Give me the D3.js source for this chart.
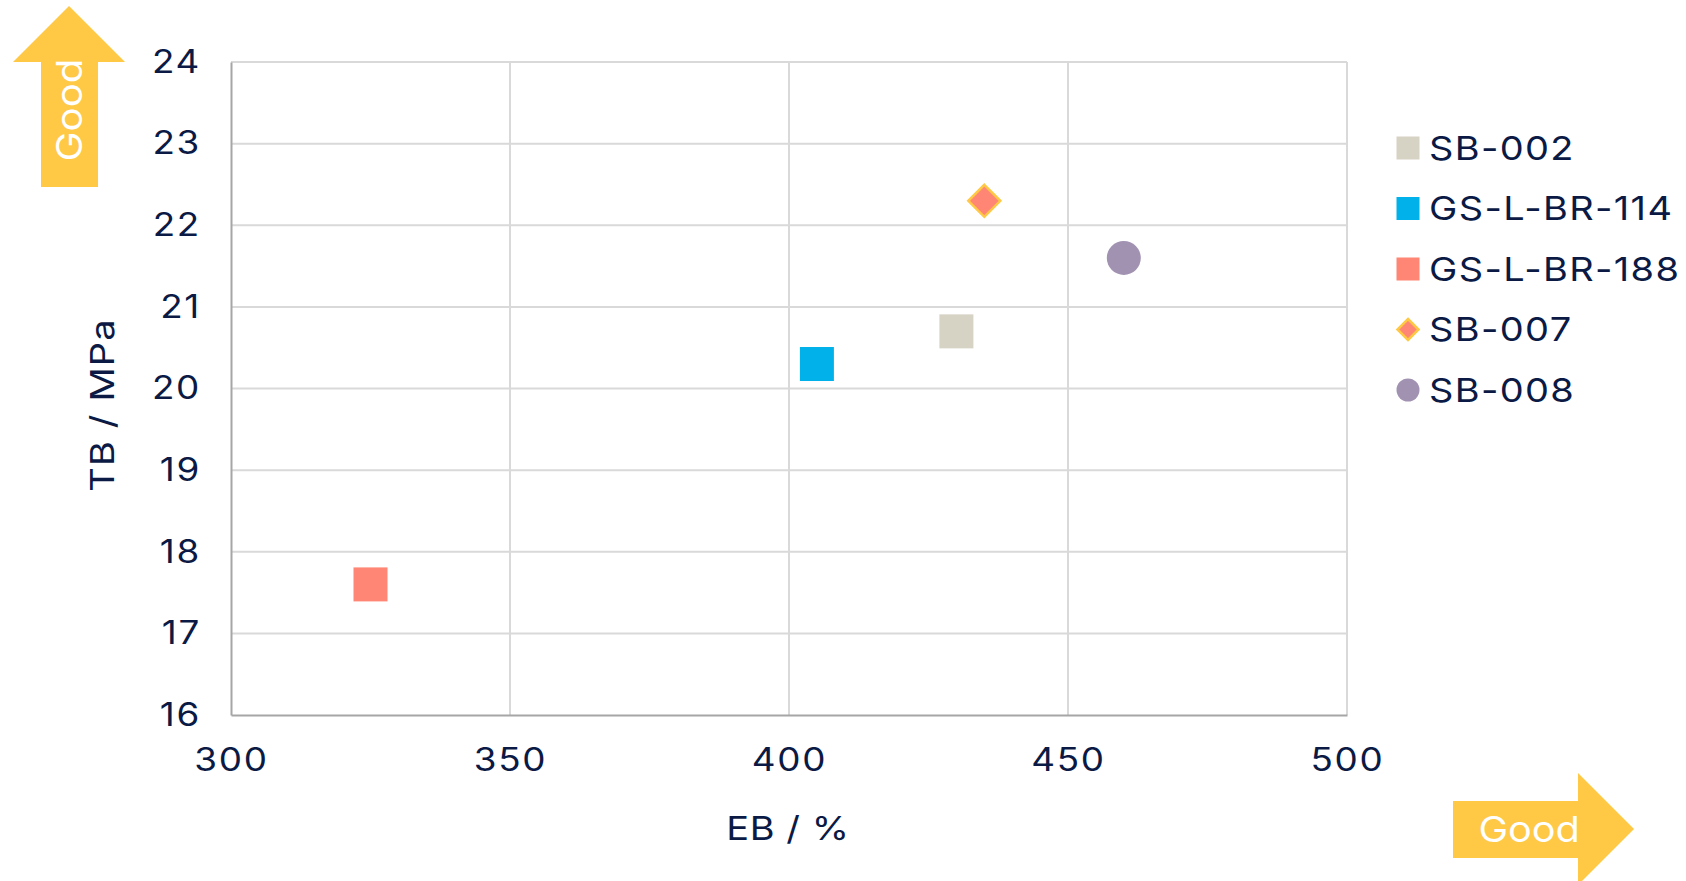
<!DOCTYPE html>
<html>
<head>
<meta charset="utf-8">
<script src="https://cdn.jsdelivr.net/npm/d3@7"></script>
<style>
  html, body { margin: 0; padding: 0; background: #fff; }
  svg { display: block; }
  text { font-family: "Inter", "Noto Sans", sans-serif; }
</style>
</head>
<body>
<svg id="chart" width="1686" height="881"></svg>
<script>
// Series: elongation at break (EB, %) vs tensile strength (TB, MPa)
const seriesNames = ["SB-002", "GS-L-BR-114", "GS-L-BR-188", "SB-007", "SB-008"];
const ebValues = [430, 405, 325, 435, 460];
const tbValues = [20.7, 20.3, 17.6, 22.3, 21.6];
const markerShapes = ["square", "square", "square", "diamond", "circle"];
const markerColors = ["#D6D2C4", "#00B2E9", "#FF8674", "#FF8674", "#A192B2"];
const xTicks = [300, 350, 400, 450, 500];
const yTicks = [16, 17, 18, 19, 20, 21, 22, 23, 24];

const svg = d3.select("#chart");
const ink = "#0B1A45";
const gold = "#FFC845";
const stretch = 1.15;   // wide lettering

const plot = { left: 231, right: 1347, top: 62, bottom: 715 };
const x = d3.scaleLinear().domain([300, 500]).range([plot.left, plot.right]);
const y = d3.scaleLinear().domain([16, 24]).range([plot.bottom, plot.top]);

// Turn a text's x attribute into a translate so it can be widened in place
function widen(sel, sx) {
  sel.each(function () {
    const t = d3.select(this);
    const tx = +t.attr("x") || 0;
    const prev = t.attr("transform") || "";
    t.attr("x", 0).attr("transform", `${prev} translate(${tx},0) scale(${sx},1)`);
  });
}

// Gridlines
svg.append("g").selectAll("line").data(yTicks.filter(t => t > 16)).join("line")
  .attr("x1", plot.left).attr("x2", plot.right)
  .attr("y1", d => y(d)).attr("y2", d => y(d))
  .attr("stroke", "#D9D9D9").attr("stroke-width", 2);
svg.append("g").selectAll("line").data(xTicks.filter(t => t > 300)).join("line")
  .attr("y1", plot.top).attr("y2", plot.bottom)
  .attr("x1", d => x(d)).attr("x2", d => x(d))
  .attr("stroke", "#D9D9D9").attr("stroke-width", 2);

// Axes
const xAxis = svg.append("g").attr("transform", `translate(0,${plot.bottom})`)
  .call(d3.axisBottom(x).tickValues(xTicks).tickSize(0).tickPadding(33));
const yAxis = svg.append("g").attr("transform", `translate(${plot.left},0)`)
  .call(d3.axisLeft(y).tickValues(yTicks).tickSize(0).tickPadding(30));
[xAxis, yAxis].forEach(g => {
  g.select(".domain").attr("stroke", "#A6A6A6").attr("stroke-width", 2);
  g.selectAll("text").attr("fill", ink).style("font-size", "32px")
    .attr("letter-spacing", 1.5)
    .style("font-family", "Inter, 'Noto Sans', sans-serif")
    .call(widen, stretch);
});

// Axis titles
svg.append("text").attr("transform", `translate(788,840) scale(${stretch},1)`)
  .attr("text-anchor", "middle").attr("letter-spacing", 0.5)
  .attr("fill", ink).style("font-size", "33px").text("EB / %");
svg.append("text").attr("transform", `translate(114,405) rotate(-90) scale(${stretch},1)`)
  .attr("text-anchor", "middle").attr("letter-spacing", 1).attr("fill", ink)
  .style("font-size", "33px").text("TB / MPa");

// Marker drawing
const markerSize = 34;
function drawMarker(g, shape, color, size) {
  if (shape === "square") {
    g.append("rect").attr("x", -size / 2).attr("y", -size / 2)
      .attr("width", size).attr("height", size).attr("fill", color);
  } else if (shape === "circle") {
    g.append("circle").attr("r", size / 2).attr("fill", color);
  } else {
    const h = size / 2 - 1;
    g.append("path").attr("d", `M0,${-h}L${h},0L0,${h}L${-h},0Z`)
      .attr("fill", color).attr("stroke", gold).attr("stroke-width", 2.5);
  }
}

const data = seriesNames.map((name, i) => ({
  name, eb: ebValues[i], tb: tbValues[i], shape: markerShapes[i], color: markerColors[i]
}));

svg.append("g").selectAll("g").data(data).join("g")
  .attr("transform", d => `translate(${x(d.eb)},${y(d.tb)})`)
  .each(function (d) { drawMarker(d3.select(this), d.shape, d.color, markerSize); });

// Legend
const legend = svg.append("g").attr("transform", "translate(1408,148)");
const rows = legend.selectAll("g").data(data).join("g")
  .attr("transform", (d, i) => `translate(0,${i * 60.5})`);
rows.each(function (d) { drawMarker(d3.select(this), d.shape, d.color, 23); });
rows.append("text").attr("x", 21).attr("dy", "0.35em").attr("fill", ink)
  .attr("letter-spacing", 1.2).style("font-size", "33px").text(d => d.name)
  .call(widen, stretch);

// "Good" direction arrows
const arrowUp = "M69,6 L125,62 L98,62 L98,187 L41,187 L41,62 L13,62 Z";
svg.append("path").attr("d", arrowUp).attr("fill", gold);
svg.append("text").attr("transform", "translate(69,110) rotate(-90) scale(1.12,1)")
  .attr("text-anchor", "middle").attr("dy", "0.35em")
  .attr("fill", "#fff").style("font-size", "36px").text("Good");

const arrowRight = "M1453,801 L1578,801 L1578,773 L1634,829 L1578,885 L1578,858 L1453,858 Z";
svg.append("path").attr("d", arrowRight).attr("fill", gold);
svg.append("text").attr("transform", "translate(1529,829) scale(1.1,1)")
  .attr("text-anchor", "middle").attr("dy", "0.35em")
  .attr("fill", "#fff").style("font-size", "36px").text("Good");
</script>
</body>
</html>
